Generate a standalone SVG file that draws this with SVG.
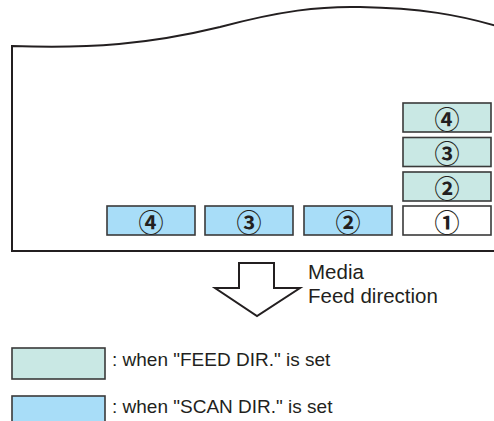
<svg xmlns="http://www.w3.org/2000/svg" width="494" height="421" viewBox="0 0 494 421">
<style>
.box{stroke:#3a3a3a;stroke-width:1.6}
.feed{fill:#c9e8e4}
.scan{fill:#a8ddf8}
.blank{fill:#ffffff}
.num{font-family:"Noto Sans CJK JP","DejaVu Sans",sans-serif;font-weight:bold;font-size:25px;fill:#231f20;text-anchor:middle;dominant-baseline:central}
.lbl{font-family:"Liberation Sans",Arial,sans-serif;font-size:19px;fill:#231f20}
.dir{font-size:20.5px}
</style>
<rect width="494" height="421" fill="#ffffff"/>
<g id="paper">
<path d="M12,251 L12,46 C90,49 150,44 220,27 C280,11 320,6 360,7 C420,8 460,15 500,27" fill="none" stroke="#231f20" stroke-width="2"/>
<line x1="11" y1="251" x2="494" y2="251" stroke="#231f20" stroke-width="2.2"/>
</g>
<g id="scan4"><rect class="box scan" x="107" y="206" width="88" height="29"/><text class="num" x="151" y="220.5">④</text></g>
<g id="scan3"><rect class="box scan" x="205" y="206" width="88" height="29"/><text class="num" x="249" y="220.5">③</text></g>
<g id="scan2"><rect class="box scan" x="304" y="206" width="88" height="29"/><text class="num" x="348" y="220.5">②</text></g>
<g id="box1"><rect class="box blank" x="403" y="206" width="88" height="29"/><text class="num" x="447" y="220.5">①</text></g>
<g id="feed2"><rect class="box feed" x="403" y="172" width="88" height="29"/><text class="num" x="447" y="186.5">②</text></g>
<g id="feed3"><rect class="box feed" x="403" y="137.5" width="88" height="29"/><text class="num" x="447" y="152">③</text></g>
<g id="feed4"><rect class="box feed" x="403" y="103" width="88" height="29"/><text class="num" x="447" y="117.5">④</text></g>
<g id="connectors">
<polygon points="239,263 274,263 274,288 300,288 257,316 215,288 239,288" fill="#ffffff" stroke="#231f20" stroke-width="2" stroke-linejoin="miter"/>
</g>
<g id="direction-label">
<text class="lbl dir" x="308" y="279">Media</text>
<text class="lbl dir" x="308" y="303">Feed direction</text>
</g>
<g id="legend-feed">
<rect class="box feed" x="12" y="348" width="93" height="31"/>
<text class="lbl" x="112" y="366">: when "FEED DIR." is set</text>
</g>
<g id="legend-scan">
<rect class="box scan" x="12" y="396" width="93" height="31"/>
<text class="lbl" x="112" y="413">: when "SCAN DIR." is set</text>
</g>
</svg>
